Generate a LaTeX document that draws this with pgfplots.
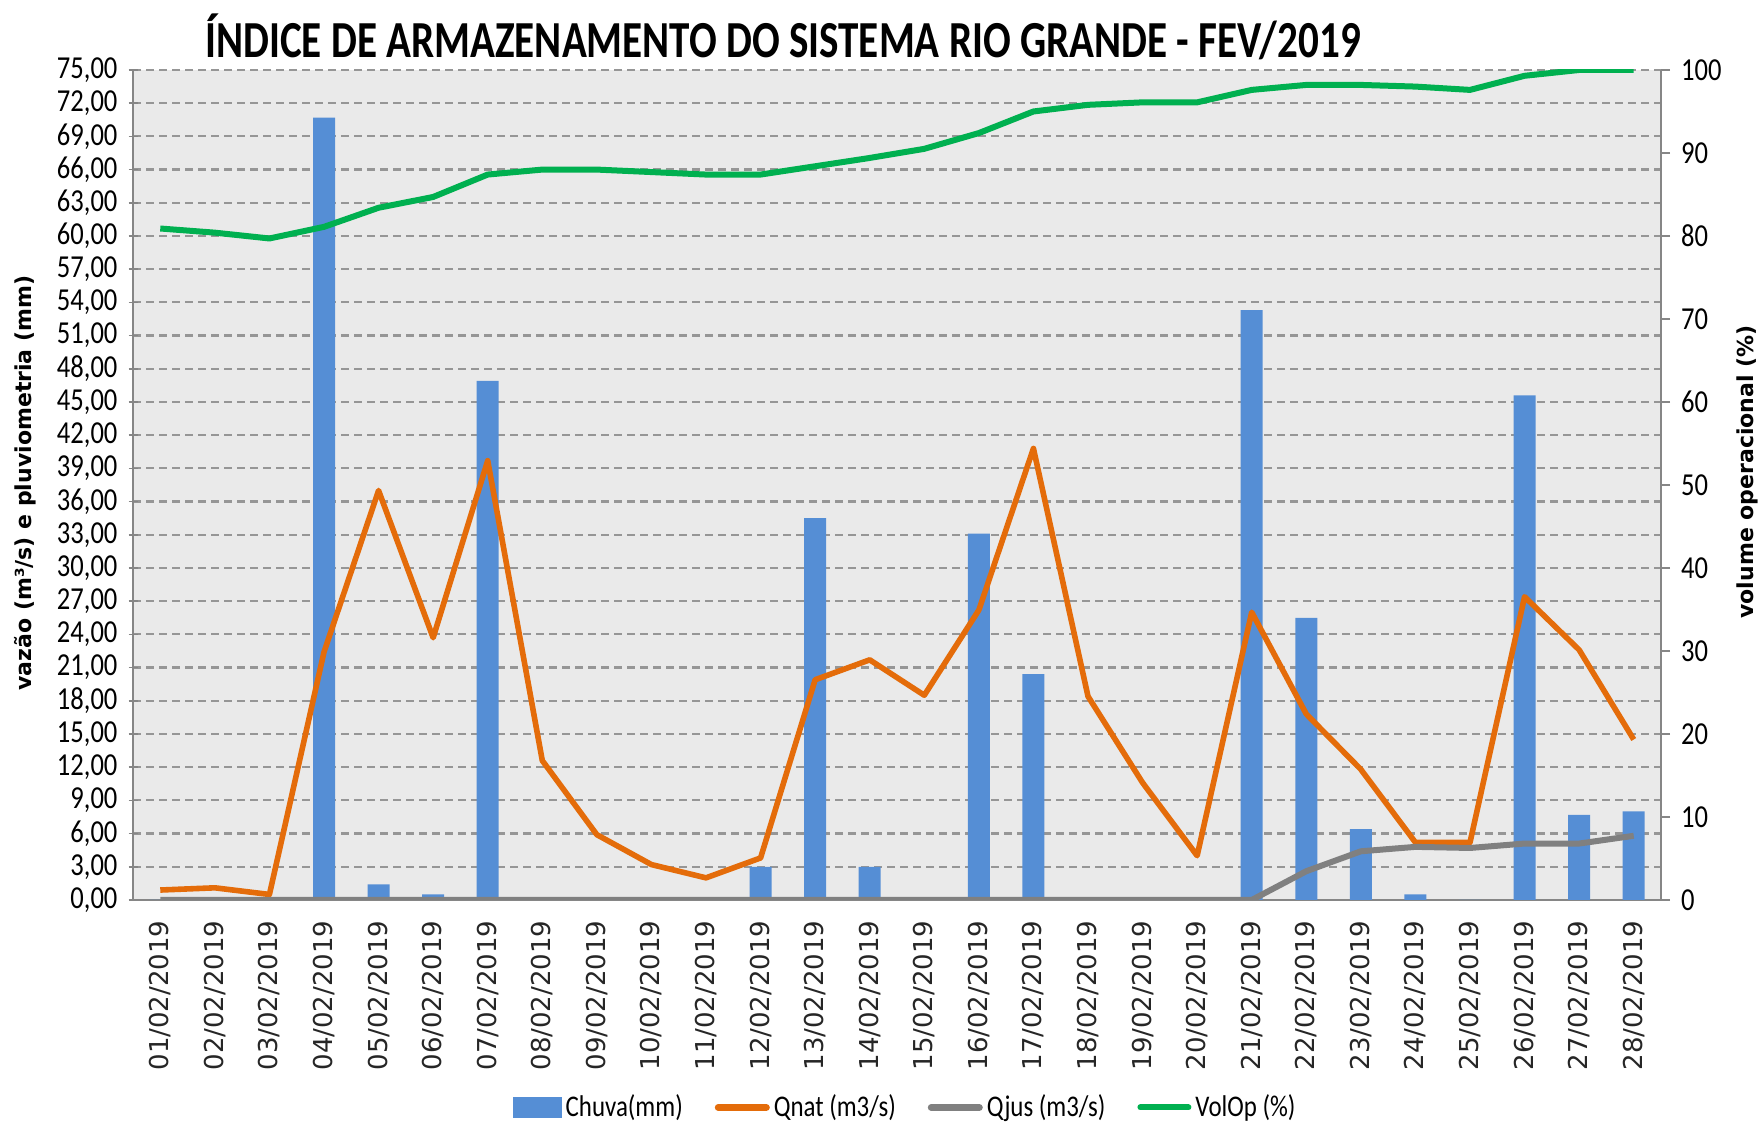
\documentclass[border=0pt]{standalone}
\usepackage{fontspec}
\setmainfont{Carlito}
\newfontfamily\condfont[FakeStretch=0.83]{Carlito}
\newfontfamily\titlefont[FakeStretch=0.79]{Carlito}
\newfontfamily\dvsans{DejaVu Sans}
\usepackage{pgfplots}
\usepackage{pgfplotstable}
\pgfplotsset{compat=1.18}

\definecolor{chuva}{RGB}{85,142,213}
\definecolor{qnat}{RGB}{228,108,10}
\definecolor{qjus}{RGB}{128,128,128}
\definecolor{volop}{RGB}{0,176,80}
\definecolor{fundo}{RGB}{234,234,234}
\definecolor{grade}{RGB}{150,150,150}
\definecolor{eixo}{RGB}{134,134,134}

% dia, chuva (mm), Qnat (m3/s), Qjus (m3/s), VolOp (%)
\pgfplotstableread{
dia chuva qnat qjus volop
1  0    0.9  0   80.9
2  0    1.1  0   80.4
3  0    0.5  0   79.7
4  70.7 22.4 0   81.1
5  1.4  37.0 0   83.4
6  0.5  23.7 0   84.7
7  46.9 39.7 0   87.4
8  0    12.6 0   88.0
9  0    5.9  0   88.0
10 0    3.2  0   87.7
11 0    2.0  0   87.4
12 3.0  3.8  0   87.4
13 34.5 19.9 0   88.4
14 3.0  21.7 0   89.4
15 0    18.5 0   90.5
16 33.1 26.2 0   92.4
17 20.4 40.8 0   95.0
18 0    18.4 0   95.8
19 0    10.6 0   96.1
20 0    4.0  0   96.1
21 53.3 26.0 0   97.6
22 25.5 16.8 2.6 98.2
23 6.4  11.8 4.4 98.2
24 0.5  5.2  4.8 98.0
25 0    5.2  4.7 97.6
26 45.6 27.4 5.1 99.3
27 7.7  22.6 5.1 100
28 8.0  14.5 5.8 100
}\dados

\pgfplotsset{
  base/.style={
    at={(66.5pt,113.5pt)}, anchor=south west,
    scale only axis, width=764pt, height=415pt,
    xmin=0.5, xmax=28.5,
    tick align=outside,
    major tick length=4.5pt, minor tick length=5pt,
    every tick/.style={eixo, line width=0.8pt},
    axis line style={eixo, line width=1pt},
    /pgf/number format/assume math mode=true,
  },
}

\begin{document}
\begin{tikzpicture}
\useasboundingbox (0,0) rectangle (881pt,563.5pt);

\begin{axis}[base,
  axis x line=bottom, axis y line=left,
  axis line style={-, eixo, line width=1pt},
  axis background/.style={fill=fundo},
  ymin=0, ymax=75, ytick={0,3,...,75},
  ymajorgrids, grid style={grade, line width=1.1pt, dash pattern=on 4pt off 2.5pt},
  yticklabel={\pgfmathprintnumber[fixed,fixed zerofill,precision=2,use comma]{\tick}},
  yticklabel style={font=\condfont\fontsize{16}{16}\selectfont, xshift=-2pt},
  xtick={1,...,28}, xtick style={draw=none},
  minor xtick={0.5,1.5,...,28.5},
  xticklabels={01/02/2019,02/02/2019,03/02/2019,04/02/2019,05/02/2019,06/02/2019,07/02/2019,08/02/2019,09/02/2019,10/02/2019,11/02/2019,12/02/2019,13/02/2019,14/02/2019,15/02/2019,16/02/2019,17/02/2019,18/02/2019,19/02/2019,20/02/2019,21/02/2019,22/02/2019,23/02/2019,24/02/2019,25/02/2019,26/02/2019,27/02/2019,28/02/2019},
  xticklabel style={font=\dvsans\fontsize{13}{13}\selectfont, text=black!85, rotate=90, anchor=east, xshift=-4.5pt},
]
\addplot[ybar, bar width=11pt, fill=chuva, draw=none] table[x=dia,y=chuva]{\dados};
\addplot[qnat, line width=2.8pt, line join=round] table[x=dia,y=qnat]{\dados};
\addplot[qjus, line width=3pt, line join=round] table[x=dia,y=qjus]{\dados};
\end{axis}

\begin{axis}[base,
  axis x line=none, axis y line*=right,
  ymin=0, ymax=100, ytick={0,10,...,100},
  yticklabel style={font=\condfont\fontsize{16}{16}\selectfont, xshift=2pt},
  legend columns=4,
  legend style={draw=none, fill=none, at={(0.506,-0.250)}, anchor=center,
    font=\condfont\fontsize{15}{15}\selectfont,
    /tikz/every even column/.append style={column sep=14pt}},
  legend image code/.code={\draw[#1, line cap=round] (0pt,0pt) -- (24pt,0pt);},
]
\addlegendimage{legend image code/.code={\fill[chuva] (0pt,-5pt) rectangle (24pt,5pt);}}
\addlegendentry{Chuva(mm)}
\addlegendimage{qnat, line width=3.5pt}
\addlegendentry{Qnat (m3/s)}
\addlegendimage{qjus, line width=3.5pt}
\addlegendentry{Qjus (m3/s)}
\addplot[volop, line width=3pt, line join=round] table[x=dia,y=volop]{\dados};
\addlegendentry{VolOp (\%)}
\end{axis}

\node[font=\titlefont\bfseries\fontsize{26}{26}\selectfont] at (391.5pt,545pt) {ÍNDICE DE ARMAZENAMENTO DO SISTEMA RIO GRANDE - FEV/2019};
\node[rotate=90, font=\dvsans\bfseries\fontsize{11}{11}\selectfont] at (12.5pt,322pt) {vazão (m³/s) e pluviometria (mm)};
\node[rotate=90, font=\dvsans\bfseries\fontsize{11}{11}\selectfont] at (873.5pt,327.5pt) {volume operacional (\%)};
\end{tikzpicture}
\end{document}
